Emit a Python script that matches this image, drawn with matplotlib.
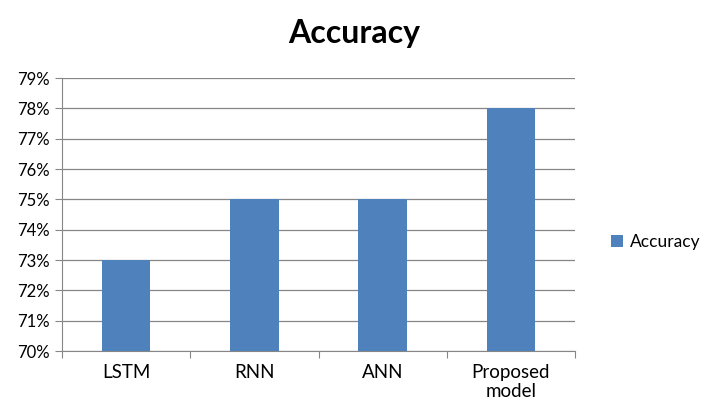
import matplotlib.pyplot as plt
import numpy as np

# data
models = ['LSTM', 'RNN', 'ANN', 'Proposed\nmodel']
accuracy = [73, 75, 75, 78]
yticks = list(range(70, 80))

plt.rcParams['font.family'] = ['Lato', 'DejaVu Sans']

fig = plt.figure(figsize=(7.09, 4.15), dpi=100)
ax = fig.add_axes([62 / 709, 1 - 351 / 415, (575 - 62) / 709, (351 - 78) / 415])

x = np.arange(len(models))
ax.bar(x, [a - 70 for a in accuracy], bottom=70, width=0.38,
       color='#4F81BD', label='Accuracy', zorder=3)

ax.set_xlim(-0.5, len(models) - 0.5)
ax.set_ylim(70, 79)
ax.set_yticks(yticks)
ax.set_yticklabels([f'{v}%' for v in yticks])
ax.yaxis.grid(True, color='#868686', linewidth=0.9, zorder=0)

# category ticks at boundaries, labels centred
ax.set_xticks(np.arange(-0.5, len(models)), minor=False)
ax.set_xticklabels([''] * (len(models) + 1))
ax.set_xticks(x, minor=True)
ax.set_xticklabels(models, minor=True, linespacing=1.15)
ax.tick_params(axis='x', which='major', length=5, color='#868686')
ax.tick_params(axis='x', which='minor', length=0, pad=9, labelsize=13.5)
ax.tick_params(axis='y', length=5, color='#868686', labelsize=12, pad=4)

for s in ['top', 'right']:
    ax.spines[s].set_visible(False)
for s in ['left', 'bottom']:
    ax.spines[s].set_color('#868686')

fig.text(354 / 709, 1 - 33 / 415, 'Accuracy', ha='center', va='center',
         fontsize=23, fontweight='bold')

ax.legend(loc='center left', bbox_to_anchor=(1.04, 0.4), frameon=False,
          fontsize=12.5, handlelength=0.7, handleheight=0.7, handletextpad=0.4)

fig.savefig('out.png', dpi=100)
